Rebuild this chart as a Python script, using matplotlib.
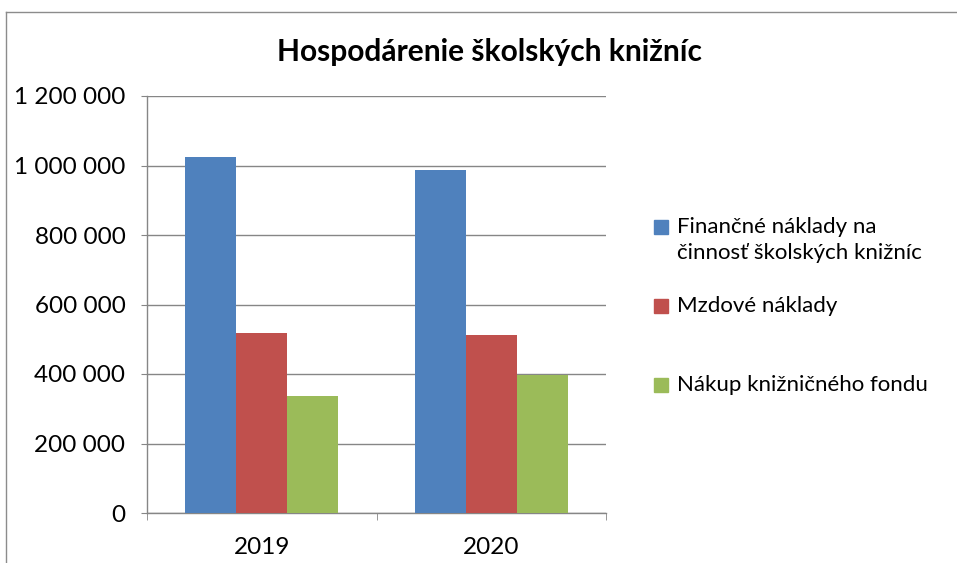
import matplotlib.pyplot as plt
from matplotlib.patches import Rectangle
from matplotlib.lines import Line2D
from matplotlib.ticker import FuncFormatter, FixedLocator

years = ["2019", "2020"]
series_names = [
    "Finančné náklady na\nčinnosť školských knižníc",
    "Mzdové náklady",
    "Nákup knižničného fondu",
]
financne = [1024000, 987000]
mzdove = [518000, 512000]
nakup = [337000, 397000]
colors = ["#4f81bd", "#c0504d", "#9bbb59"]
y_ticks = [0, 200000, 400000, 600000, 800000, 1000000, 1200000]

plt.rcParams["font.family"] = ["Lato", "DejaVu Sans"]

W, H = 957, 563
fig = plt.figure(figsize=(W / 100, H / 100), dpi=100)
ax = fig.add_axes([147 / W, 50 / H, 459 / W, 417 / H])

width = 1 / 4.5
x = range(len(years))
for i, (vals, color) in enumerate(zip([financne, mzdove, nakup], colors)):
    ax.bar([xi + (i - 1) * width for xi in x], vals, width=width,
           color=color, zorder=3)

ax.set_xlim(-0.5, 1.5)
ax.set_ylim(0, 1200000)
ax.set_yticks(y_ticks)
ax.yaxis.set_major_formatter(
    FuncFormatter(lambda v, p: f"{int(v):,}".replace(",", " ")))
ax.set_xticks(list(x))
ax.set_xticklabels(years)
ax.xaxis.set_minor_locator(FixedLocator([-0.5, 0.5, 1.5]))

grid_col = "#868686"
ax.grid(axis="y", color=grid_col, linewidth=1, zorder=0)
for s in ["top", "right"]:
    ax.spines[s].set_visible(False)
for s in ["left", "bottom"]:
    ax.spines[s].set_color(grid_col)
    ax.spines[s].set_linewidth(1)
ax.tick_params(axis="y", which="major", length=4.5, color=grid_col,
               labelsize=17.5, pad=11)
ax.tick_params(axis="x", which="major", length=0, labelsize=17.5, pad=17)
ax.tick_params(axis="x", which="minor", length=5, color=grid_col)

fig.text(489 / W, 1 - 52 / H, "Hospodárenie školských knižníc",
         ha="center", va="center", fontsize=21.5, fontweight="bold")

# legend drawn by hand to follow the Excel placement
legend_y = [227, 306, 385]
for name, color, ly in zip(series_names, colors, legend_y):
    fig.patches.append(Rectangle((654 / W, 1 - (ly + 7) / H), 14 / W, 14 / H,
                                 transform=fig.transFigure, color=color))
    fig.text(677 / W, 1 - (ly - 10) / H, name, ha="left", va="top",
             fontsize=16, linespacing=1.35)

# chart area border
fig.lines.append(Line2D([6 / W, 1], [1 - 12 / H, 1 - 12 / H],
                        transform=fig.transFigure, color="#8c8c8c", lw=1))
fig.lines.append(Line2D([6 / W, 6 / W], [0, 1 - 12 / H],
                        transform=fig.transFigure, color="#8c8c8c", lw=1))

fig.savefig("out.png", dpi=100)
